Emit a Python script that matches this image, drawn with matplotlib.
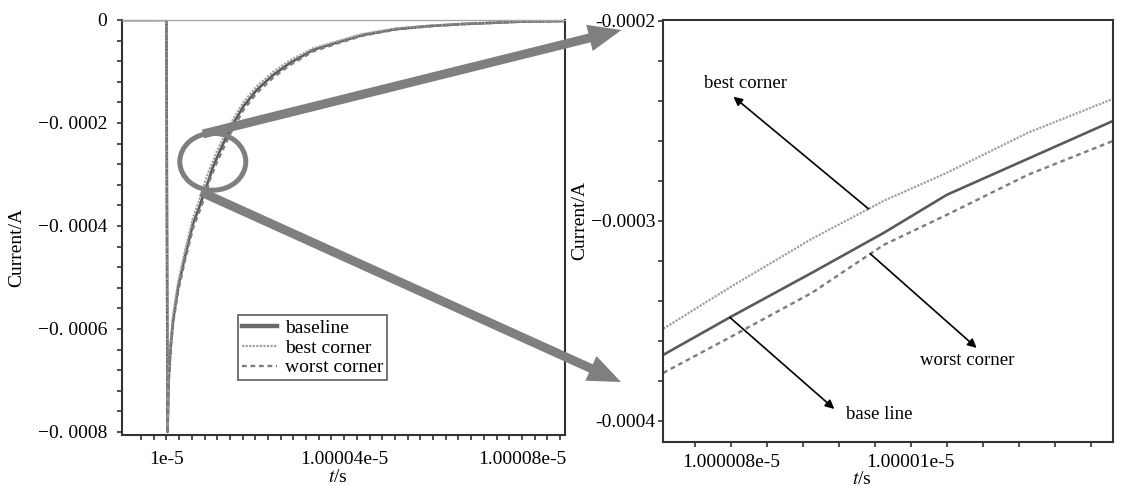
import numpy as np
import matplotlib.pyplot as plt
from matplotlib.patches import Ellipse, FancyArrow

plt.rcParams['font.family'] = ['Liberation Serif', 'DejaVu Serif']
plt.rcParams['mathtext.fontset'] = 'stix'

T0 = 1e-5  # switching edge, s

# time after the edge, ps
t_ps = [-10.0, 0.0, 0.25, 0.35, 0.5, 0.95, 1.5, 2.65, 4.15, 6.0, 7.25, 8.0, 8.9,
        9.7, 10.4, 11.3, 12.25, 14.3, 17.3, 20.3, 24.0, 27.7, 33.0, 39.0, 44.2,
        51.7, 59.2, 66.7, 74.2, 79.4, 89.7]

# supply current, uA
i_baseline = [0, 0, -800, -762, -699, -634, -583, -518, -460, -395, -367, -348, -326,
              -306, -287, -269, -250, -212, -168, -136, -107, -84, -58, -42, -29,
              -17.5, -11.7, -7.8, -5.2, -3.3, -2]
i_best = [0, 0, -798, -755, -690, -624, -573, -508, -449, -383, -354, -333, -309,
          -290, -276, -256, -239, -203, -160, -129, -101, -79, -55, -40, -27,
          -16.5, -11, -7.4, -5, -3.1, -2]
i_worst = [0, 0, -802, -768, -706, -641, -590, -526, -468, -404, -376, -358, -336,
           -312, -297, -277, -260, -222, -175, -142, -112, -88, -61, -44, -30.5,
           -18.5, -12.3, -8.2, -5.4, -3.4, -2]

series_names = ['baseline', 'best corner', 'worst corner']

# tick values (ps / uA) and their printed labels
full_xticks = [0, 40, 80]
full_xlabels = ['1e-5', '1.00004e-5', '1.00008e-5']
full_yticks = [0, -200, -400, -600, -800]
full_ylabels = ['0', '\u22120. 0002', '\u22120. 0004', '\u22120. 0006', '\u22120. 0008']
zoom_xticks = [8, 10]
zoom_xlabels = ['1.000008e-5', '1.00001e-5']
zoom_yticks = [-200, -300, -400]
zoom_ylabels = ['-0.0002', '\u22120.0003', '-0.0004']

t = T0 + np.array(t_ps) * 1e-12
curves = [np.array(c) * 1e-6 for c in (i_baseline, i_best, i_worst)]
styles = [dict(color='#5a5a5a', lw=1.9, ls='-'),
          dict(color='#a0a0a0', lw=1.6, ls=(0, (1, 0.6))),
          dict(color='#7c7c7c', lw=1.7, ls=(0, (2, 1.6)))]

W, H = 1123, 486
fig = plt.figure(figsize=(W / 100, H / 100), dpi=100, facecolor='white')
ax1 = fig.add_axes([122 / W, 51 / H, 443 / W, 415 / H])
ax2 = fig.add_axes([663 / W, 44 / H, 450 / W, 422 / H])

for ax in (ax1, ax2):
    for y, name, st in zip(curves, series_names, styles):
        ax.plot(t, y, label=name, **st)
    for side in ('left', 'bottom', 'right', 'top'):
        ax.spines[side].set_color('#333333')
        ax.spines[side].set_linewidth(1.5)
    ax.tick_params(which='both', direction='out', length=3.5, width=1.2,
                   color='#333333', labelsize=14)
ax1.spines['top'].set_color('#a8a8a8')
ax1.spines['top'].set_linewidth(1.0)

# full transient
ax1.set_xlim(T0 - 10.0e-12, T0 + 89.7e-12)
ax1.set_ylim(-0.000806, 0.0)
ax1.set_xticks(T0 + np.array(full_xticks) * 1e-12, labels=full_xlabels)
ax1.set_xticks(T0 + np.arange(-2, 32) * (40 / 14) * 1e-12, minor=True)
ax1.set_yticks(np.array(full_yticks) * 1e-6, labels=full_ylabels)
ax1.set_yticks(np.arange(0, -0.00081, -0.00004), minor=True)
ax1.tick_params(axis='x', pad=8)
ax1.tick_params(axis='y', pad=7)
ax1.set_xlabel('$t$/s', fontsize=14)
ax1.set_ylabel('Current/A', fontsize=14)
ax1.xaxis.set_label_coords(0.488, -0.083)
ax1.yaxis.set_label_coords(-0.218, 0.453)

leg = ax1.legend(loc='upper left', bbox_to_anchor=(0.2625, 0.289), fontsize=14,
                 frameon=True, fancybox=False, edgecolor='#444444',
                 borderaxespad=0, borderpad=0.2, handlelength=1.8,
                 handletextpad=0.4, labelspacing=0.12)
leg.get_frame().set_linewidth(1.3)
leg.legend_handles[0].set_linewidth(3.2)
leg.legend_handles[0].set_color('#6a6a6a')

# zoomed window
ax2.set_xlim(T0 + 7.248e-12, T0 + 12.244e-12)
ax2.set_ylim(-0.0004105, -0.0001997)
ax2.set_xticks(T0 + np.array(zoom_xticks) * 1e-12, labels=zoom_xlabels)
ax2.set_xticks(T0 + np.arange(7.6, 12.1, 0.4) * 1e-12, minor=True)
ax2.set_yticks(np.array(zoom_yticks) * 1e-6, labels=zoom_ylabels)
ax2.set_yticks(np.arange(-0.0002, -0.00041, -0.00002), minor=True)
ax2.tick_params(axis='x', pad=5)
ax2.tick_params(axis='y', pad=2)
ax2.set_xlabel('$t$/s', fontsize=14)
ax2.set_ylabel('Current/A', fontsize=14)
ax2.xaxis.set_label_coords(0.442, -0.068)
ax2.yaxis.set_label_coords(-0.166, 0.524)


def ps(v):
    return T0 + v * 1e-12


def ua(v):
    return v * 1e-6


arrow_kw = dict(arrowstyle='-|>', color='black', lw=1.2, mutation_scale=13,
                shrinkA=0, shrinkB=0)
callouts = [
    ('best corner', curves[1], 9.53, (8.03, -238), (8.16, -231.5)),
    ('worst corner', curves[2], 9.55, (10.73, -363.5), (10.63, -370)),
    ('base line', curves[0], 7.99, (9.15, -394), (9.65, -397)),
]
for text, y, t_tail, head, pos in callouts:
    tail = (ps(t_tail), np.interp(ps(t_tail), t, y))
    ax2.annotate('', xy=(ps(head[0]), ua(head[1])), xytext=tail, arrowprops=arrow_kw)
    ax2.text(ps(pos[0]), ua(pos[1]), text, fontsize=13.5, ha='center', va='center')

# magnifier ring and the two pointers to the zoomed window (inches)
grey = '#7f7f7f'
fig.add_artist(Ellipse((2.128, 4.86 - 1.617), 0.66, 0.57, fill=False,
                       edgecolor=grey, lw=3.6, transform=fig.dpi_scale_trans))
for (x0, y0), (x1, y1) in [((2.03, 4.86 - 1.34), (6.215, 4.86 - 0.30)),
                           ((2.01, 4.86 - 1.92), (6.21, 4.86 - 3.82))]:
    fig.add_artist(FancyArrow(x0, y0, x1 - x0, y1 - y0, width=0.09,
                              head_width=0.27, head_length=0.33,
                              length_includes_head=True, color=grey, lw=0,
                              transform=fig.dpi_scale_trans))

fig.savefig('out.png', dpi=100, facecolor='white')
